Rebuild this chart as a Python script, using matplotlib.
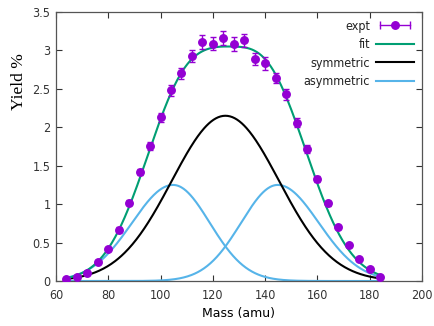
import numpy as np
import matplotlib
matplotlib.use("Agg")
import matplotlib.pyplot as plt
from matplotlib.lines import Line2D
from matplotlib.legend_handler import HandlerLine2D

mass = [64, 68, 72, 76, 80, 84, 88, 92, 96, 100, 104, 108, 112, 116, 120, 124,
        128, 132, 136, 140, 144, 148, 152, 156, 160, 164, 168, 172, 176, 180, 184]
yld = [0.02, 0.05, 0.11, 0.25, 0.41, 0.67, 1.02, 1.42, 1.76, 2.13, 2.48, 2.70,
       2.93, 3.11, 3.09, 3.16, 3.08, 3.13, 2.89, 2.83, 2.64, 2.43, 2.06, 1.72,
       1.33, 1.01, 0.70, 0.465, 0.29, 0.16, 0.05]
err = [0.01, 0.01, 0.01, 0.02, 0.02, 0.03, 0.03, 0.04, 0.05, 0.06, 0.07, 0.07,
       0.08, 0.09, 0.09, 0.09, 0.09, 0.09, 0.08, 0.08, 0.07, 0.07, 0.06, 0.05,
       0.04, 0.03, 0.02, 0.02, 0.01, 0.01, 0.01]

# curve shapes (amplitude, centre, left width, right width)
sym_par = (2.15, 124.8, 20.5, 20.5)
asym_par = [(1.25, 104.8, 15.7, 14.0),
            (1.25, 144.8, 14.0, 15.7)]
# the green fit curve (drawn as three pieces)
fit_par = [(1.25, 104.8, 14.5, 14.0),
           (2.15, 124.8, 19.0, 21.0),
           (1.25, 144.8, 14.0, 14.8)]

col_pt = "#9400d3"
col_fit = "#009e73"
col_asym = "#56b4e9"


def bump(x, p):
    a, c, sl, sr = p
    s = np.where(x < c, sl, sr)
    return a*np.exp(-(x - c)**2/(2*s**2))


plt.rcParams['font.family'] = ['DejaVu Sans']
plt.rcParams['font.stretch'] = 'condensed'

fig = plt.figure(figsize=(4.35, 3.26), dpi=100)
ax = fig.add_axes([56/435, 45/326, 366/435, 269/326])

x = np.linspace(mass[0], mass[-1], 400)
sym = bump(x, sym_par)
fit = sum(bump(x, p) for p in fit_par)

for p in asym_par:
    ax.plot(x, bump(x, p), color=col_asym, lw=1.5)
ax.plot(x, sym, color="black", lw=1.5)
ax.plot(x, fit, color=col_fit, lw=1.5)
ax.errorbar(mass, yld, yerr=err, fmt='o', color=col_pt, ms=5.4, ecolor=col_pt,
            elinewidth=1, capsize=2, capthick=1, zorder=5)

ax.set_xlim(60, 200)
ax.set_ylim(0, 3.5)
ax.set_xticks(np.arange(60, 201, 20))
ax.set_yticks(np.arange(0, 3.51, 0.5))
ax.set_yticklabels(["0", "0.5", "1", "1.5", "2", "2.5", "3", "3.5"])
ax.tick_params(direction='in', length=4, width=0.8, top=True, right=True,
               labelsize=9, colors='#333333', pad=6)
ax.tick_params(axis='y', pad=4)
for sp in ax.spines.values():
    sp.set_color('#555555')
    sp.set_linewidth(0.9)

ax.set_xlabel("Mass (amu)", fontsize=9, labelpad=3, fontstretch='normal')
fig.text(19/435, 1 - 82/326, "Yield %", rotation=90, ha='center', va='center',
         fontsize=12.5, family='Liberation Serif')

# gnuplot style legend: horizontal error bar for the points
bar = Line2D([0], [0], color=col_pt, lw=1, marker='|', ms=6)
dot = Line2D([0], [0], color=col_pt, ls='none', marker='o', ms=5.4)
h_fit = Line2D([0], [0], color=col_fit, lw=1.5)
h_sym = Line2D([0], [0], color='black', lw=1.5)
h_asym = Line2D([0], [0], color=col_asym, lw=1.5)
leg = ax.legend([(bar, dot), h_fit, h_sym, h_asym],
                ["expt", "fit", "symmetric", "asymmetric"],
                handler_map={bar: HandlerLine2D(numpoints=2), dot: HandlerLine2D(numpoints=1)},
                loc='upper right', frameon=False, markerfirst=False, fontsize=9,
                handlelength=3.0, handletextpad=0.5, labelspacing=0.45,
                borderaxespad=0.1, bbox_to_anchor=(0.995, 0.995))
for t in leg.get_texts():
    t.set_ha('right')
    t.set_color('#222222')

fig.savefig("out.png", dpi=100)
